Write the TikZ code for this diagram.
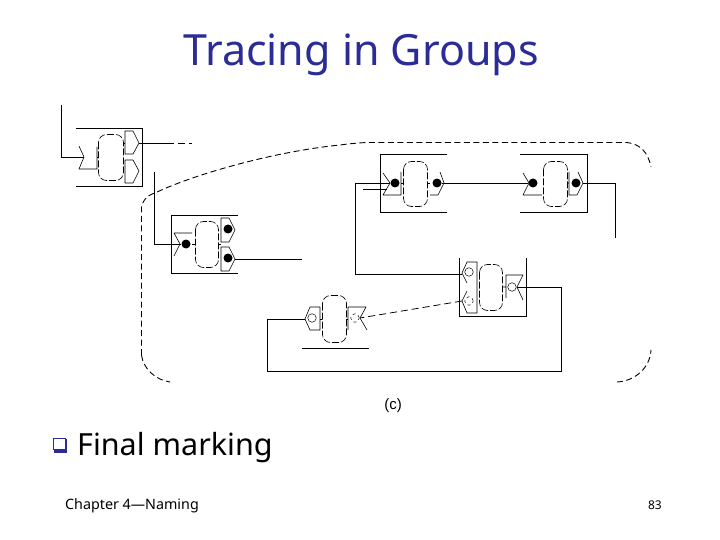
\documentclass[tikz,border=0pt]{standalone}
\usepackage{fontspec}
\setmainfont{Noto Sans}
\newfontfamily\labelfont{Liberation Sans}
\definecolor{titleblue}{RGB}{44,44,150}
\tikzset{
  wire/.style={line width=0.8pt,black},
  part/.style={line width=0.6pt,black,line join=round},
  broken/.style={line width=0.6pt,black,dash pattern=on 7pt off 2pt},
  ring/.style={line width=0.9pt,dash pattern=on 6pt off 3.5pt},
  longdash/.style={dash pattern=on 7pt off 4pt},
  token/.style={circle,fill=black,inner sep=0pt,minimum size=9pt},
  hollow/.style={circle,draw=black,line width=0.5pt,inner sep=0pt,minimum size=8.5pt},
}
\begin{document}
\begin{tikzpicture}[x=1pt,y=-1pt]
  \useasboundingbox[fill=white] (0,0) rectangle (720,540);
  % text
  \node[titleblue,anchor=base] (title) at (361,66) {\fontsize{43}{43}\selectfont Tracing in Groups};
  \node[anchor=base west,inner sep=0pt] (final) at (77,455) {\fontsize{30.5}{30.5}\selectfont Final marking};
  \node[anchor=base west,inner sep=0pt] (chapter) at (65,509) {\fontsize{14.3}{14.3}\selectfont Chapter 4---Naming};
  \node[anchor=base east,inner sep=0pt] (page) at (662,509) {\fontsize{12}{12}\selectfont 83};
  \node[anchor=base] (caption) at (393,409) {\labelfont\fontsize{15}{15}\selectfont (c)};
  \fill[titleblue] (54,439) rectangle (67,453);
  \draw[line width=1pt,titleblue,fill=white] (53,438) rectangle (65,449);

  % boxes around the processes
  \draw[wire] (76,128) -- (142,128) -- (142,186) -- (76,186);
  \draw[wire] (238,215) -- (171,215) -- (171,273) -- (238,273);
  \draw[wire] (447,154) -- (380,154) -- (380,212) -- (447,212);
  \draw[wire] (520,154) -- (587,154) -- (587,212) -- (520,212);
  \draw[wire] (459,258) -- (459,316) -- (526,316) -- (526,258);
  \draw[wire] (302,348) -- (369,348);

  % the rounded groups
  \foreach \x/\y/\w/\h in {98.5/134.5/25/46,195.5/221.5/23/46,403.5/161.5/24/45,543.5/161.5/24/45,479.5/264.5/23/46,322.5/295.5/24/47}
    \draw[broken,rounded corners=8pt] (\x,\y) rectangle (\x+\w,\y+\h);

  % process A
  \draw[part] (79,146) -- (84,157) -- (79,169) -- (97,169) -- (97,147);
  \draw[part] (97,157) -- (99,157) (123,143) -- (125,143);
  \draw[part] (125,131) -- (133,131) -- (139,143) -- (133,154) -- (125,154) -- cycle;
  \draw[part] (125,160) -- (133,160) -- (139,171) -- (133,183) -- (125,183) -- cycle;
  \coordinate (ain) at (84,157);
  \coordinate (aout) at (139,143);
  \coordinate (aend) at (167,143);
  \coordinate (adash) at (192,143);
  \coordinate (afree) at (61,105);

  % process B
  \draw[part] (174,233) -- (192,233) (174,233) -- (180,244) -- (174,256);
  \draw[part] (192,244) -- (195,244) (218,244) -- (221,244);
  \draw[part] (221,218) -- (229,218) -- (235,230) -- (229,242) -- (221,242) -- cycle;
  \draw[part] (221,247) -- (229,247) -- (235,259) -- (229,271) -- (221,271) -- cycle;
  \node[token] (bin) at (186,244) {};
  \node[token] (bone) at (228,229) {};
  \node[token] (btwo) at (228,258) {};
  \coordinate (bfree) at (154,172);
  \coordinate (bout) at (235,259);
  \coordinate (bend) at (302,259);

  % process C
  \draw[part] (383,173) -- (390,183) -- (383,195) -- (401,195) -- (401,172);
  \draw[part] (401,183) -- (403,183) (427,183) -- (430,183);
  \draw[part] (440,172) -- (444,183) -- (438,195) -- (430,195);
  \node[token] (cin) at (395,183) {};
  \node[token] (cout) at (437,183) {};
  \coordinate (ctip) at (390,183);
  \coordinate (cside) at (387,189);
  \coordinate (cfree) at (363,189);

  % process D
  \draw[part] (523,173) -- (529,183) -- (523,195) -- (542,195);
  \draw[part] (567,183) -- (569,183) (569,172) -- (569,195) -- (577,195) -- (583,183) -- (578,172);
  \node[token] (din) at (533,183) {};
  \node[token] (dout) at (576,183) {};
  \coordinate (dtip) at (583,183);
  \coordinate (dfree) at (615,238);

  % process E
  \draw[part] (477,262) -- (477,313) -- (467,313) -- (462,301) -- (467,291);
  \draw[part] (477,262) -- (467,262) -- (462,273) -- (467,283);
  \draw[part] (502,287) -- (506,287) (506,298) -- (506,275) -- (523,275) -- (517,287) -- (523,300);
  \node[hollow] (eone) at (469,272) {};
  \node[hollow,dashed] (etwo) at (469,301) {};
  \node[hollow] (eout) at (512,287) {};
  \coordinate (etipa) at (462,274);
  \coordinate (etipb) at (462,301);
  \coordinate (etipc) at (517,287);

  % process F
  \draw[part] (320,307) -- (320,330) -- (310,330) -- (305,319) -- (310,307) -- (320,307);
  \draw[part] (320,319) -- (322,319) (346,319) -- (348,319);
  \draw[part] (348,330) -- (348,307) -- (366,307) -- (360,318) -- (367,330);
  \node[hollow] (fin) at (312,318) {};
  \node[hollow,dashed] (fout) at (355,318) {};
  \coordinate (ftip) at (305,319);
  \coordinate (ftipb) at (360,318);

  % channels
  \draw[wire] (afree) |- (ain);
  \draw[wire] (aout) -- (aend);
  \draw[wire,longdash] (aend) -- (adash);
  \draw[wire] (bfree) |- (bin);
  \draw[wire] (bout) -- (bend);
  \coordinate (turnc) at (355,260);
  \coordinate (turne) at (355,274);
  \draw[wire] (turnc) |- (cin);
  \draw[wire] (turne) -- (turnc);
  \draw[wire] (turne) -- (etipa);
  \draw[wire] (cfree) -- (cside);
  \draw[wire] (cout) -- (din);
  \draw[wire] (dtip) -| (dfree);
  \coordinate (turnr) at (561,371);
  \coordinate (turnl) at (267,371);
  \draw[wire] (etipc) -| (turnr) -- (turnl) |- (ftip);
  \draw[wire,longdash] (etipb) -- (ftipb);

  % the dashed ring of the group
  \draw[ring] (141.5,355) -- (141.5,207) .. controls (144,196) and (152,194) .. (155,193) .. controls (190,176) and (270,152) .. (340,145) .. controls (355,143) and (365,142.5) .. (370,142.5) -- (627,142.5) .. controls (640,144) and (648,152) .. (651,167);
  \draw[ring] (141.5,355) .. controls (143,368) and (155,380) .. (170,382);
  \draw[ring] (617,382) .. controls (635,381) and (650,368) .. (651,350);
\end{tikzpicture}
\end{document}
